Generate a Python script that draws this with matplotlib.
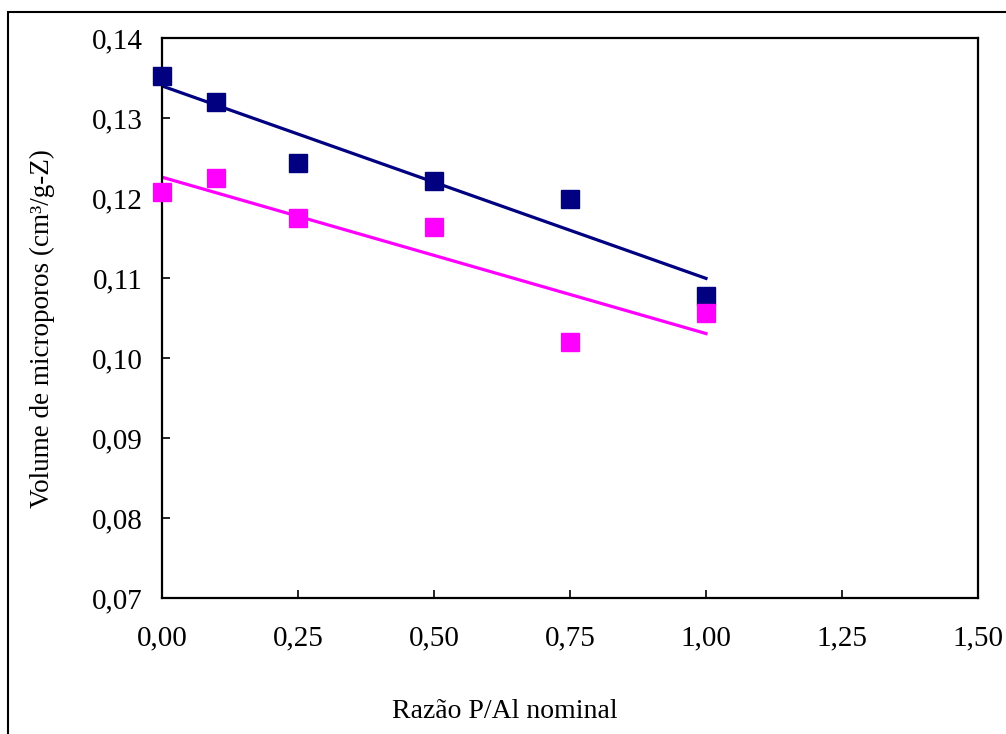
import numpy as np
import matplotlib.pyplot as plt
from matplotlib.patches import Rectangle

plt.rcParams['font.family'] = ['Liberation Serif', 'DejaVu Serif']

razao = [0.00, 0.10, 0.25, 0.50, 0.75, 1.00]
vol_a = [0.1353, 0.1320, 0.1244, 0.1221, 0.1199, 0.1078]
vol_b = [0.1208, 0.1225, 0.1175, 0.1164, 0.1020, 0.1056]
xticks = [0.00, 0.25, 0.50, 0.75, 1.00, 1.25, 1.50]
yticks = [0.07, 0.08, 0.09, 0.10, 0.11, 0.12, 0.13, 0.14]

fig = plt.figure(figsize=(10.06, 7.34), dpi=100)
ax = fig.add_axes([162/1006, 1 - 598/734, 816/1006, 560/734])

# outer chart frame (clipped at right and bottom like the original)
fig.add_artist(Rectangle((8/1006, -0.2), 1.5, 1.2 - 12/734, transform=fig.transFigure,
                         fill=False, edgecolor='black', linewidth=1.5))

x = np.array(razao)
for y, c in [(vol_a, '#000080'), (vol_b, '#FF00FF')]:
    p = np.polyfit(x, y, 1)
    xl = np.array([x.min(), x.max()])
    ax.plot(xl, np.polyval(p, xl), color=c, linewidth=2.3, zorder=2)
    ax.plot(x, y, linestyle='none', marker='s', markersize=12.5, color=c,
            clip_on=False, zorder=3)

ax.set_xlim(0, 1.5)
ax.set_ylim(0.07, 0.14)
ax.set_xticks(xticks)
ax.set_yticks(yticks)
ax.set_xticklabels([f'{v:.2f}'.replace('.', ',') for v in xticks])
ax.set_yticklabels([f'{v:.2f}'.replace('.', ',') for v in yticks])
ax.tick_params(direction='in', length=6, width=1.2, labelsize=21)
ax.tick_params(axis='x', pad=20)
ax.tick_params(axis='y', pad=14)
for s in ax.spines.values():
    s.set_linewidth(1.6)

ax.set_xlabel('Razão P/Al nominal', fontsize=20)
ax.xaxis.set_label_coords(0.42, -0.18)
ax.set_ylabel('Volume de microporos (cm³/g-Z)', fontsize=19.5)
ax.yaxis.set_label_coords(-0.131, 0.482)

fig.savefig('out.png', dpi=100)
